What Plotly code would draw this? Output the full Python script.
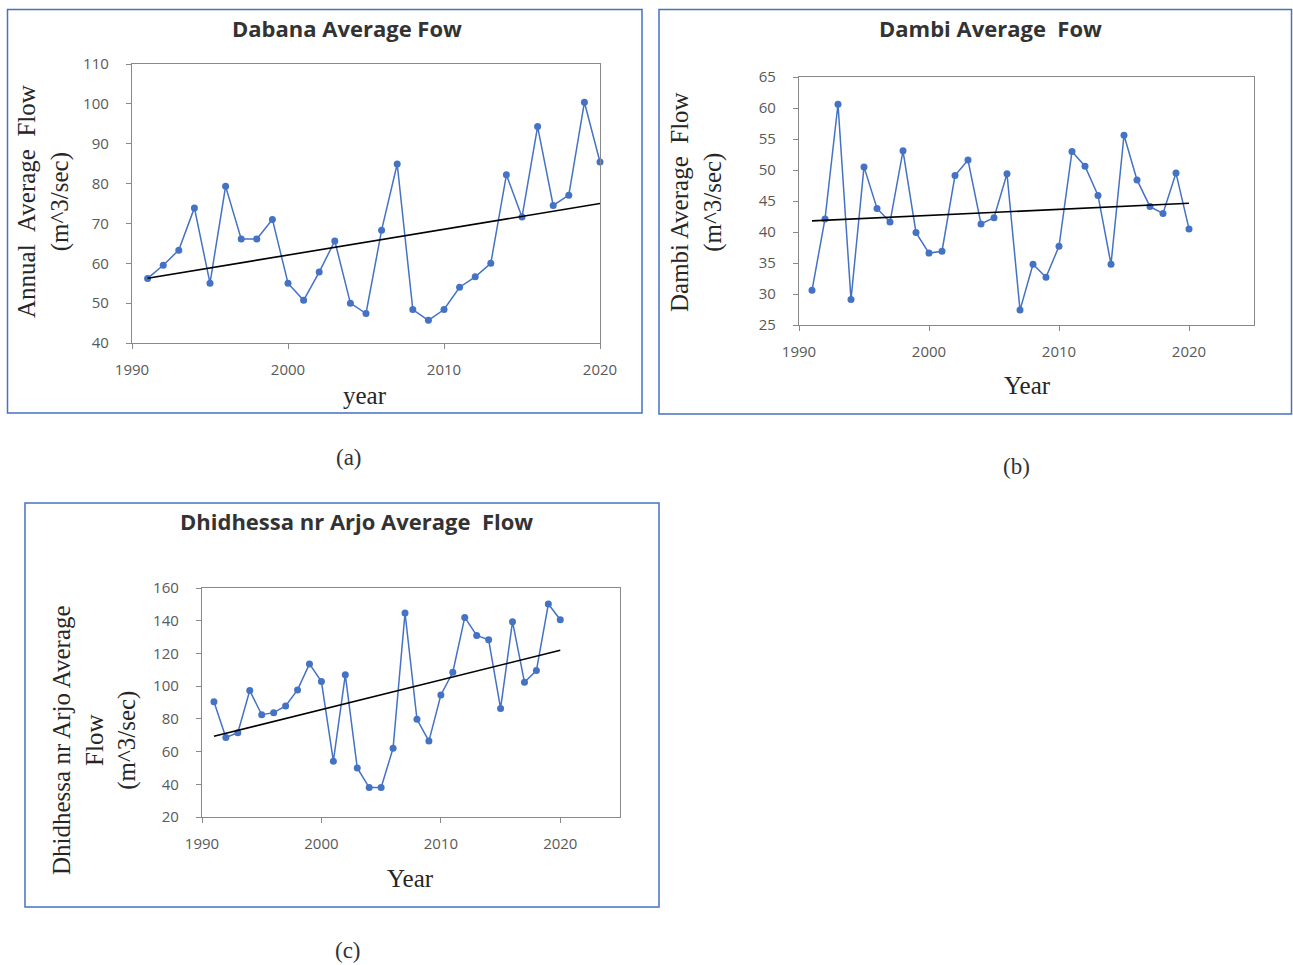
import numpy as np
import plotly.graph_objects as go

W, H = 1293, 965

years = list(range(1991, 2021))

dabana_flow = [56.2, 59.5, 63.3, 73.9, 55.0, 79.3, 66.1, 66.1, 71.0, 55.0,
               50.7, 57.8, 65.6, 50.0, 47.4, 68.3, 84.9, 48.4, 45.7, 48.4,
               54.0, 56.6, 60.0, 82.2, 71.6, 94.3, 74.5, 77.1, 100.4, 85.4]

dambi_flow = [30.6, 42.1, 60.6, 29.1, 50.5, 43.8, 41.6, 53.1, 39.9, 36.6,
              36.9, 49.1, 51.6, 41.3, 42.3, 49.4, 27.4, 34.8, 32.7, 37.7,
              53.0, 50.6, 45.9, 34.8, 55.6, 48.4, 44.1, 43.0, 49.5, 40.5]

dhidhessa_flow = [90.5, 68.6, 71.5, 97.3, 82.5, 83.8, 87.9, 97.7, 113.6, 102.8,
                  54.1, 106.9, 50.0, 38.0, 38.0, 62.1, 144.7, 79.7, 66.4, 94.6,
                  108.5, 142.0, 131.0, 128.3, 86.4, 139.4, 102.4, 109.5, 150.2, 140.6]

titles = ["Dabana Average Fow", "Dambi Average &nbsp;Fow", "Dhidhessa nr Arjo Average &nbsp;Flow"]
ytitles = ["Annual &nbsp;Average &nbsp;Flow<br>(m^3/sec)",
           "Dambi Average &nbsp;Flow<br>(m^3/sec)",
           "Dhidhessa nr Arjo Average<br>Flow<br>(m^3/sec)"]
xtitles = ["year", "Year", "Year"]
panel_labels = ["(a)", "(b)", "(c)"]


def px(x):
    return x / W


def py(y):
    return 1 - y / H


BLUE = "#4472C4"
AXIS = "#898989"
SANS = "Open Sans, Lato, sans-serif"
TICKFONT = dict(family=SANS, size=15, color="#595959")
SERIF = "Liberation Serif, Times New Roman, serif"

panels = [
    dict(series=dabana_flow, plot=(132, 64, 600, 343), xr=[1990, 2020], yr=[40, 110], dy=10,
         box=(7.5, 9.5, 642, 413), title_xy=(347, 28), xt_xy=(365, 395),
         yt_xy=(44, 202), lab_xy=(349, 457)),
    dict(series=dambi_flow, plot=(799, 77, 1254, 325), xr=[1990, 2025], yr=[25, 65], dy=5,
         box=(659, 9.5, 1291.5, 414), title_xy=(990, 28), xt_xy=(1027, 385),
         yt_xy=(697, 202), lab_xy=(1016, 466)),
    dict(series=dhidhessa_flow, plot=(202, 588, 620, 817), xr=[1990, 2025], yr=[20, 160], dy=20,
         box=(25, 503, 659, 907), title_xy=(356, 521), xt_xy=(410, 878),
         yt_xy=(94, 740), lab_xy=(348, 950)),
]

fig = go.Figure()
annotations = []
shapes = []

for i, p in enumerate(panels):
    n = "" if i == 0 else str(i + 1)
    m = str(i + 4)
    xa, ya = "x" + n, "y" + n
    vals = np.array(p["series"])
    yrs = np.array(years)
    fig.add_trace(go.Scatter(
        x=years, y=p["series"], mode="lines+markers", xaxis=xa, yaxis=ya,
        line=dict(color=BLUE, width=1.5), marker=dict(color=BLUE, size=7),
        cliponaxis=False, showlegend=False))
    k, b = np.polyfit(yrs, vals, 1)
    fig.add_trace(go.Scatter(
        x=[years[0], years[-1]], y=[k * years[0] + b, k * years[-1] + b],
        mode="lines", xaxis=xa, yaxis=ya, line=dict(color="black", width=1.6),
        showlegend=False, hoverinfo="skip"))

    x0, y0, x1, y1 = p["plot"]
    common = dict(showline=True, linecolor=AXIS, linewidth=1.3, mirror=True,
                  ticks="outside", ticklen=5, tickcolor=AXIS, tickwidth=1.3,
                  showgrid=False, zeroline=False, tickfont=TICKFONT, automargin=False)
    inner = dict(showline=False, ticks="inside", ticklen=5, tickcolor=AXIS, tickwidth=1.3,
                 showgrid=False, zeroline=False, showticklabels=False, automargin=False)
    fig.update_layout(**{
        "xaxis" + n: dict(domain=[px(x0), px(x1)], range=p["xr"], dtick=10, tick0=1990,
                          anchor=ya, ticklabelstandoff=8, **common),
        "yaxis" + n: dict(domain=[py(y1), py(y0)], range=p["yr"], dtick=p["dy"],
                          anchor=xa, ticklabelstandoff=14, **common),
        "xaxis" + m: dict(overlaying=xa, anchor=ya, range=p["xr"], dtick=10, tick0=1990,
                          side="bottom", **inner),
        "yaxis" + m: dict(overlaying=ya, anchor=xa, range=p["yr"], dtick=p["dy"],
                          side="left", **inner),
    })

    bx0, by0, bx1, by1 = p["box"]
    shapes.append(dict(type="rect", xref="paper", yref="paper",
                       x0=px(bx0), y0=py(by1), x1=px(bx1), y1=py(by0),
                       line=dict(color=BLUE, width=1.5), fillcolor="rgba(0,0,0,0)"))

    tx, ty = p["title_xy"]
    annotations.append(dict(text="<b>" + titles[i] + "</b>", x=px(tx), y=py(ty),
                            xref="paper", yref="paper", showarrow=False,
                            xanchor="center", yanchor="middle",
                            font=dict(family=SANS, size=22, color="#333333")))
    xx, xy = p["xt_xy"]
    annotations.append(dict(text=xtitles[i], x=px(xx), y=py(xy), xref="paper", yref="paper",
                            showarrow=False, xanchor="center", yanchor="middle",
                            font=dict(family=SERIF, size=25, color="#262626")))
    yx, yy = p["yt_xy"]
    annotations.append(dict(text=ytitles[i], x=px(yx), y=py(yy), xref="paper", yref="paper",
                            showarrow=False, xanchor="center", yanchor="middle", textangle=-90,
                            font=dict(family=SERIF, size=25, color="#262626")))
    lx, ly = p["lab_xy"]
    annotations.append(dict(text=panel_labels[i], x=px(lx), y=py(ly), xref="paper", yref="paper",
                            showarrow=False, xanchor="center", yanchor="middle",
                            font=dict(family=SERIF, size=23, color="#333333")))

fig.update_layout(width=W, height=H, margin=dict(l=0, r=0, t=0, b=0),
                  paper_bgcolor="white", plot_bgcolor="white",
                  annotations=annotations, shapes=shapes)

fig.write_html("out.html", config={"displayModeBar": False},
               post_script="document.body.style.margin='0';"
                           "document.documentElement.style.overflow='hidden';")
